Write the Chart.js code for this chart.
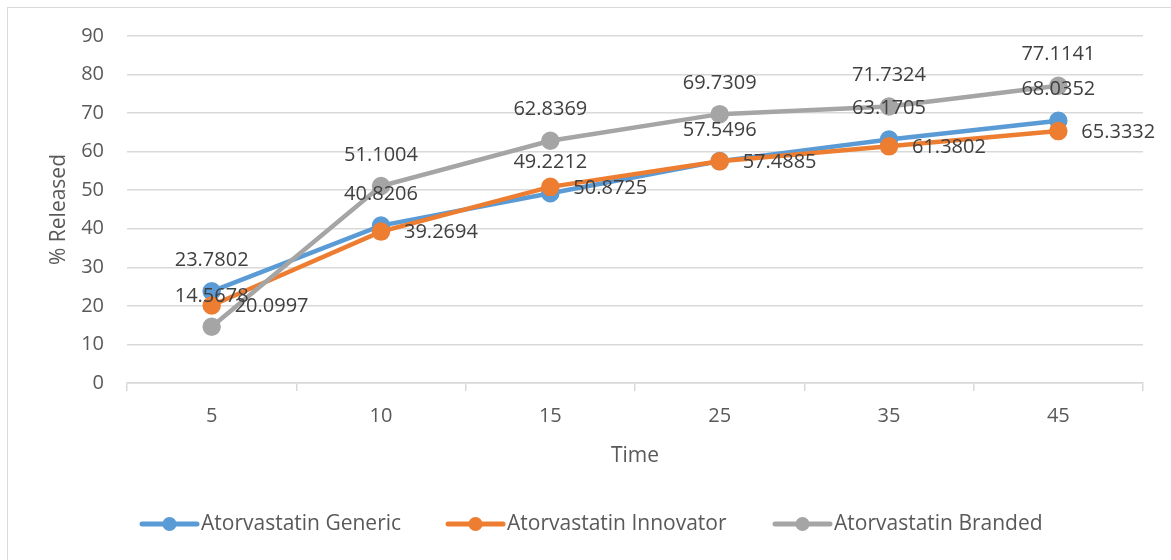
<!DOCTYPE html>
<html>
<head>
<meta charset="utf-8">
<script src="https://cdn.jsdelivr.net/npm/chart.js@4.4.1/dist/chart.umd.min.js"></script>
<style>
  html, body { margin: 0; padding: 0; background: #ffffff; }
  #wrap { width: 1171px; height: 560px; }
</style>
</head>
<body>
<div id="wrap"><canvas id="c" width="1171" height="560"></canvas></div>
<script>
// Dissolution profile: % released at each sampling time
const timePoints = ['5', '10', '15', '25', '35', '45'];
const genericReleased   = [23.7802, 40.8206, 49.2212, 57.5496, 63.1705, 68.0352];
const innovatorReleased = [20.0997, 39.2694, 50.8725, 57.4885, 61.3802, 65.3332];
const brandedReleased   = [14.5678, 51.1004, 62.8369, 69.7309, 71.7324, 77.1141];
const seriesNames = ['Atorvastatin Generic', 'Atorvastatin Innovator', 'Atorvastatin Branded'];
const yTickValues = [0, 10, 20, 30, 40, 50, 60, 70, 80, 90];

const FONT = '"Open Sans", "Noto Sans", sans-serif';
const TEXT = '#595959';
const LABEL_TEXT = '#404040';
const GRID = '#d9d9d9';
const COLORS = ['#5B9BD5', '#ED7D31', '#A5A5A5'];

// Outer frame of the chart
const framePlugin = {
  id: 'frame',
  beforeDraw(chart) {
    const ctx = chart.ctx;
    ctx.save();
    ctx.fillStyle = '#ffffff';
    ctx.fillRect(0, 0, chart.width, chart.height);
    ctx.strokeStyle = GRID;
    ctx.lineWidth = 1;
    ctx.strokeRect(7.5, 7.5, chart.width + 50, chart.height + 50);
    ctx.restore();
  }
};

// Value labels: above the point or to its right
const valueLabelPlugin = {
  id: 'valueLabels',
  afterDatasetsDraw(chart) {
    const ctx = chart.ctx;
    ctx.save();
    ctx.font = '20px ' + FONT;
    ctx.fillStyle = LABEL_TEXT;
    ctx.textBaseline = 'middle';
    chart.data.datasets.forEach((ds, i) => {
      const meta = chart.getDatasetMeta(i);
      meta.data.forEach((pt, j) => {
        const txt = ds.data[j].toFixed(4);
        if (ds.labelSide === 'right') {
          ctx.textAlign = 'left';
          ctx.fillText(txt, pt.x + 23, pt.y + 1);
        } else {
          ctx.textAlign = 'center';
          ctx.fillText(txt, pt.x, pt.y - 31);
        }
      });
    });
    ctx.restore();
  }
};

// Legend row under the plot: line with marker, then series name
const legendPlugin = {
  id: 'legendRow',
  afterDraw(chart) {
    const ctx = chart.ctx;
    const starts = [142, 448, 775];
    const y = 524;
    ctx.save();
    ctx.font = '21px ' + FONT;
    ctx.textBaseline = 'middle';
    ctx.textAlign = 'left';
    chart.data.datasets.forEach((ds, i) => {
      const x0 = starts[i];
      ctx.strokeStyle = ds.borderColor;
      ctx.lineWidth = 5;
      ctx.lineCap = 'round';
      ctx.beginPath();
      ctx.moveTo(x0, y);
      ctx.lineTo(x0 + 55, y);
      ctx.stroke();
      ctx.fillStyle = ds.borderColor;
      ctx.beginPath();
      ctx.arc(x0 + 27.5, y, 7, 0, Math.PI * 2);
      ctx.fill();
      ctx.fillStyle = TEXT;
      ctx.fillText(ds.label, x0 + 59, y);
    });
    ctx.restore();
  }
};

function series(label, data, color, order, labelSide) {
  return {
    label, data, order, labelSide,
    borderColor: color,
    backgroundColor: color,
    pointBackgroundColor: color,
    pointBorderColor: color,
    borderWidth: 4.5,
    pointRadius: 7,
    pointHoverRadius: 7,
    tension: 0,
    fill: false
  };
}

new Chart(document.getElementById('c'), {
  type: 'line',
  data: {
    labels: timePoints,
    datasets: [
      series(seriesNames[0], genericReleased, COLORS[0], 2, 'above'),
      series(seriesNames[1], innovatorReleased, COLORS[1], 1, 'right'),
      series(seriesNames[2], brandedReleased, COLORS[2], 0, 'above')
    ]
  },
  options: {
    responsive: false,
    animation: false,
    devicePixelRatio: 1,
    layout: { padding: { left: 30, right: 28, top: 36, bottom: 91 } },
    plugins: {
      legend: { display: false },
      tooltip: { enabled: false }
    },
    scales: {
      x: {
        offset: true,
        grid: {
          offset: true,
          drawOnChartArea: false,
          drawTicks: true,
          tickLength: 8,
          color: GRID,
          lineWidth: 1.5
        },
        border: { display: true, color: GRID, width: 1.5 },
        ticks: { color: TEXT, font: { family: FONT, size: 20 }, padding: 13 },
        title: {
          display: true, text: 'Time', color: TEXT,
          font: { family: FONT, size: 21 }, padding: { top: 0, bottom: 0 }
        },
        afterFit(scale) { scale.height = 86; }
      },
      y: {
        min: 0,
        max: 90,
        afterBuildTicks(scale) { scale.ticks = yTickValues.map(v => ({ value: v })); },
        grid: { color: GRID, lineWidth: 1.5, drawTicks: false },
        border: { display: false },
        ticks: { color: TEXT, font: { family: FONT, size: 20 }, padding: 23 },
        title: {
          display: true, text: '% Released', color: TEXT,
          font: { family: FONT, size: 21 }, padding: { top: 16, bottom: 0 }
        },
        afterFit(scale) { scale.width = 97; }
      }
    }
  },
  plugins: [framePlugin, valueLabelPlugin, legendPlugin]
});
</script>
</body>
</html>
